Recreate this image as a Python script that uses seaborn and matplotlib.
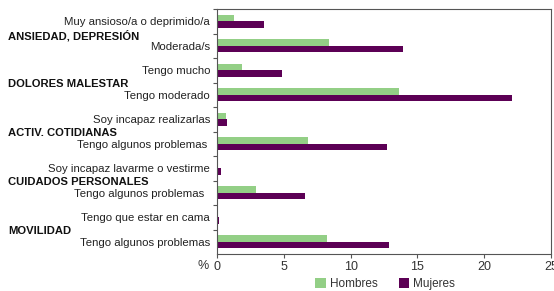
import matplotlib
matplotlib.use("Agg")
import matplotlib.pyplot as plt
import matplotlib.transforms as mtransforms
import seaborn as sns
import pandas as pd
import numpy as np

categories = [
    "Muy ansioso/a o deprimido/a",
    "Moderada/s",
    "Tengo mucho",
    "Tengo moderado",
    "Soy incapaz realizarlas",
    "Tengo algunos problemas ",
    "Soy incapaz lavarme o vestirme",
    "Tengo algunos problemas  ",
    "Tengo que estar en cama",
    "Tengo algunos problemas",
]
hombres = [1.3, 8.4, 1.9, 13.65, 0.67, 6.8, 0.1, 2.9, 0.1, 8.2]
mujeres = [3.5, 13.95, 4.9, 22.05, 0.72, 12.7, 0.27, 6.55, 0.15, 12.9]
groups = ["ANSIEDAD, DEPRESIÓN", "DOLORES MALESTAR", "ACTIV. COTIDIANAS",
          "CUIDADOS PERSONALES", "MOVILIDAD"]
series = ["Hombres", "Mujeres"]
colors = ["#93cf86", "#5c0055"]
xticks = [0, 5, 10, 15, 20, 25]

df = pd.DataFrame({
    "cat": categories * 2,
    "val": hombres + mujeres,
    "sexo": ["Hombres"] * len(categories) + ["Mujeres"] * len(categories),
})

sns.set_style("white")
plt.rcParams["font.family"] = ["Liberation Sans", "DejaVu Sans"]

fig = plt.figure(figsize=(5.54, 2.91), dpi=100)
ax = fig.add_axes([217 / 554, 1 - 254 / 291, (551 - 217) / 554, (254 - 9) / 291])

sns.barplot(data=df, y="cat", x="val", hue="sexo", order=categories,
            hue_order=series, palette=colors, orient="h", width=0.55,
            saturation=1, ax=ax, legend=True, edgecolor="none")

ax.set_xlim(0, 25)
ax.set_xticks(xticks)
ax.set_xticklabels([str(t) for t in xticks], fontsize=9, color="#333333")
ax.set_ylabel("")
ax.set_xlabel("")
ax.tick_params(axis="y", length=0, labelsize=8.2, pad=5, labelcolor="#222222")
ax.tick_params(axis="x", length=3, width=0.8, color="#555555", pad=2, direction="out", bottom=True)
ax.set_yticks(np.arange(-0.5, len(categories) - 0.5, 1), minor=True)
ax.tick_params(axis="y", which="minor", length=3, width=0.8, color="#555555", left=True)

for s in ax.spines.values():
    s.set_color("#555555")
    s.set_linewidth(0.8)

trans = mtransforms.blended_transform_factory(fig.transFigure, ax.transData)
for i, g in enumerate(groups):
    ax.text(8 / 554, 2 * i + 0.58, g, transform=trans, fontsize=8.1,
            fontweight="bold", ha="left", va="center", color="#111111")

ax.text(-0.6, -0.025, "%", transform=mtransforms.blended_transform_factory(ax.transData, ax.transAxes),
        ha="right", va="top", fontsize=9, color="#333333")

handles, labels = ax.get_legend_handles_labels()
ax.get_legend().remove()
fig.legend(handles, labels, loc="center", bbox_to_anchor=(385 / 554, 1 - 284 / 291),
           ncol=2, frameon=False, fontsize=8.5, handlelength=0.9, handleheight=0.9,
           handletextpad=0.3, columnspacing=1.8, labelcolor="#333333")

fig.savefig("out.png", dpi=100)
